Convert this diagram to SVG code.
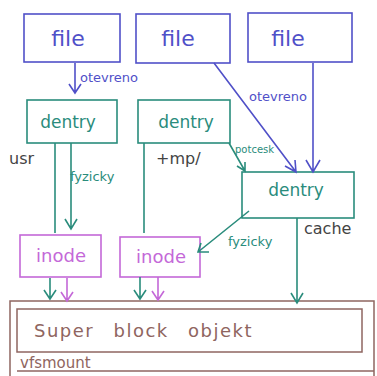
<svg xmlns="http://www.w3.org/2000/svg" width="377" height="376" viewBox="0 0 377 376">
<style>
.b{fill:none;stroke:#5050c8;stroke-width:1.6}
.t{fill:none;stroke:#2a8c7c;stroke-width:1.6}
.v{fill:none;stroke:#c468d8;stroke-width:1.6}
.r{fill:none;stroke:#8f6560;stroke-width:1.5}
.tb{font-family:"DejaVu Sans",sans-serif;font-size:22px;fill:#5050c8;text-anchor:middle}
.tt{font-family:"DejaVu Sans",sans-serif;font-size:17px;fill:#2a8c7c;text-anchor:middle}
.tv{font-family:"DejaVu Sans",sans-serif;font-size:18px;fill:#c468d8;text-anchor:middle}
.lb{font-family:"DejaVu Sans",sans-serif;font-size:13px;fill:#5050c8}
.lt{font-family:"DejaVu Sans",sans-serif;font-size:13px;fill:#2a8c7c}
.lk{font-family:"DejaVu Sans",sans-serif;font-size:16px;fill:#444}
.tr{font-family:"DejaVu Sans",sans-serif;font-size:18px;fill:#8f6560}
</style>
<g id="file1"><rect class="b" x="24" y="14" width="96" height="48"/><text class="tb" x="68" y="46">file</text></g>
<g id="file2"><rect class="b" x="136" y="14" width="94" height="49"/><text class="tb" x="178" y="46">file</text></g>
<g id="file3"><rect class="b" x="248" y="13" width="104" height="49"/><text class="tb" x="288" y="46">file</text></g>
<g id="dentry1"><rect class="t" x="27" y="100" width="90" height="43"/><text class="tt" x="68" y="128">dentry</text></g>
<g id="dentry2"><rect class="t" x="138" y="100" width="92" height="43"/><text class="tt" x="186" y="128">dentry</text></g>
<g id="dentry3"><rect class="t" x="242" y="172" width="112" height="46"/><text class="tt" x="296" y="196">dentry</text></g>
<g id="inode1"><rect class="v" x="20" y="235" width="81" height="42"/><text class="tv" x="61" y="262">inode</text></g>
<g id="inode2"><rect class="v" x="120" y="237" width="80" height="40"/><text class="tv" x="161" y="263">inode</text></g>
<g id="superblock">
<rect class="r" x="10" y="301" width="364" height="80"/>
<rect class="r" x="17" y="309" width="345" height="43"/>
<line class="r" x1="17" y1="371" x2="374" y2="371"/>
<text class="tr" x="34" y="337" style="letter-spacing:1.5px;word-spacing:12px">Super block objekt</text>
<text class="tr" x="20" y="368" style="font-size:15px">vfsmount</text>
</g>
<g id="connectors">
<path d="M75,63 L75,92 M69,84 L75,93 L81,84" class="b"/>
<path d="M214,63 L296,172 M285,166 L296,172 L295,160" class="b"/>
<path d="M313,63 L313,172 M306,160 L313,172 L320,160" class="b"/>
<path d="M55,143 L55,233" class="t"/>
<path d="M71,143 L71,229 M65,219 L71,229 L77,219" class="t"/>
<path d="M144,143 L144,233" class="t"/>
<path d="M229,143 L245,171 M237,166 L245,171 L245,162" class="t"/>
<path d="M297,218 L297,303 M291,293 L297,303 L303,293" class="t"/>
<path d="M249,211 L198,252 M201,243 L198,252 L209,252" class="t"/>
<path d="M50,278 L50,299 M44,290 L50,299 L56,290" class="t"/>
<path d="M67,278 L67,301 M61,292 L67,301 L73,292" class="v"/>
<path d="M140,277 L140,299 M134,290 L140,299 L146,290" class="t"/>
<path d="M158,277 L158,300 M152,291 L158,300 L164,291" class="v"/>
<text class="lb" x="80" y="82">otevreno</text>
<text class="lb" x="249" y="101">otevreno</text>
<text class="lt" x="70" y="181">fyzicky</text>
<text class="lt" x="228" y="246">fyzicky</text>
<text class="lt" x="235" y="153" style="font-size:10px">potcesk</text>
<text class="lk" x="9" y="164">usr</text>
<text class="lk" x="156" y="164">+mp/</text>
<text class="lk" x="304" y="234">cache</text>
</g>
</svg>
